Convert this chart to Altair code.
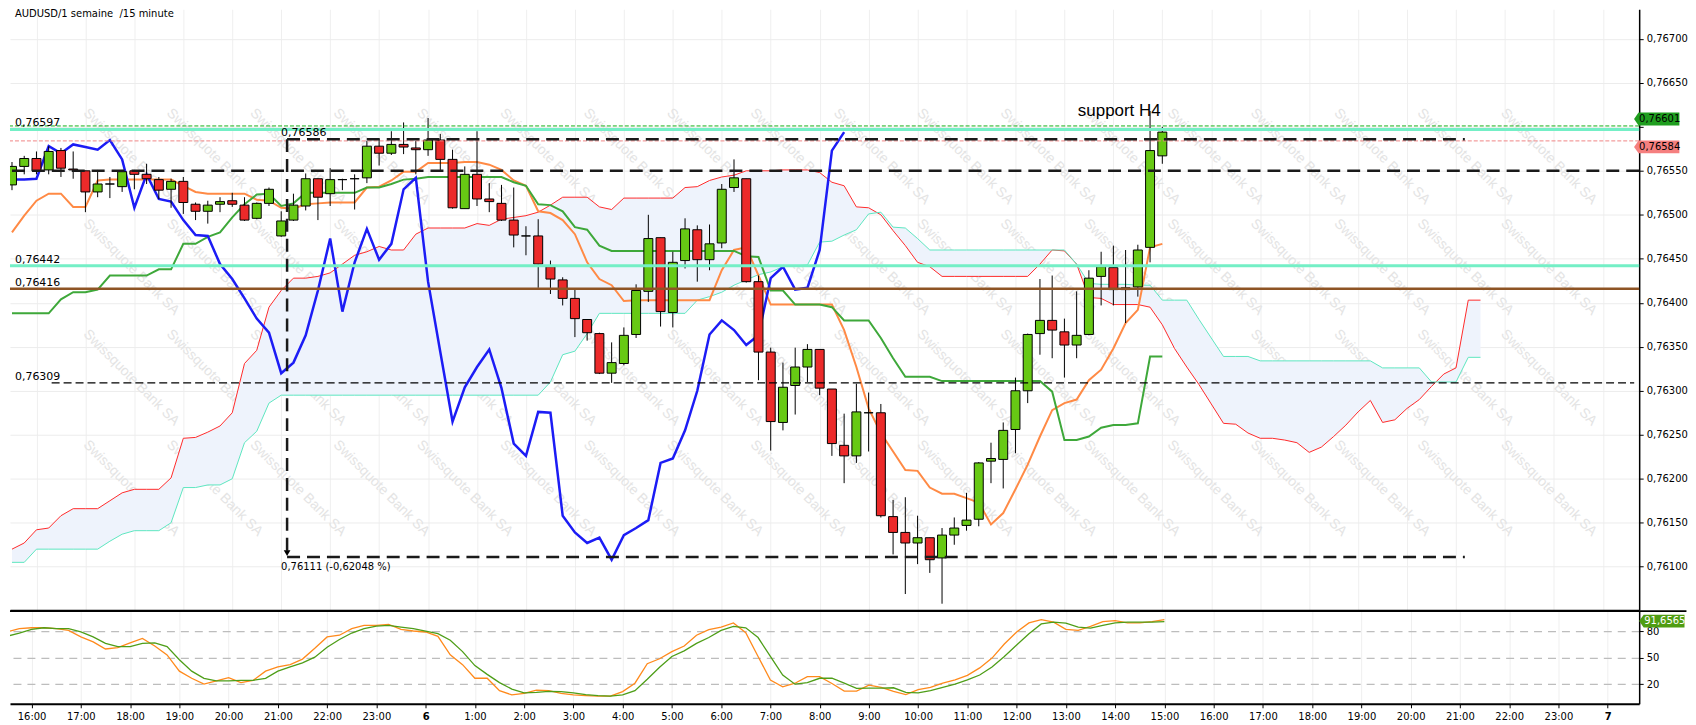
import altair as alt
import pandas as pd

# ---------------- data ----------------
# time axis: hours counted from 0:00 on day 5; one candle every 15 minutes
T_FIRST = 15.5
T_STEP = 0.25

OPEN = [0.76534, 0.76555, 0.76564, 0.76551, 0.76573, 0.76552, 0.76550, 0.76526, 0.76535, 0.76532,
        0.76550, 0.76546, 0.76540, 0.76529, 0.76538, 0.76512, 0.76504, 0.76512, 0.76516, 0.76511,
        0.76496, 0.76513, 0.76476, 0.76494, 0.76510, 0.76541, 0.76524, 0.76540, 0.76541, 0.76542,
        0.76578, 0.76570, 0.76580, 0.76576, 0.76574, 0.76585, 0.76563, 0.76507, 0.76546, 0.76518,
        0.76513, 0.76494, 0.76476, 0.76476, 0.76441, 0.76426, 0.76405, 0.76381, 0.76365, 0.76320,
        0.76331, 0.76364, 0.76413, 0.76474, 0.76389, 0.76448, 0.76483, 0.76449, 0.76468, 0.76531,
        0.76541, 0.76424, 0.76344, 0.76264, 0.76306, 0.76327, 0.76347, 0.76302, 0.76238, 0.76226,
        0.76275, 0.76275, 0.76157, 0.76139, 0.76127, 0.76133, 0.76110, 0.76136, 0.76147, 0.76154,
        0.76220, 0.76222, 0.76256, 0.76300, 0.76365, 0.76380, 0.76367, 0.76352, 0.76364, 0.76430,
        0.76440, 0.76415, 0.76418, 0.76463, 0.76567]
HIGH = [0.76560, 0.76567, 0.76572, 0.76578, 0.76576, 0.76572, 0.76550, 0.76551, 0.76543, 0.76551,
        0.76551, 0.76558, 0.76543, 0.76541, 0.76543, 0.76514, 0.76516, 0.76520, 0.76525, 0.76520,
        0.76514, 0.76531, 0.76504, 0.76524, 0.76547, 0.76541, 0.76553, 0.76541, 0.76546, 0.76584,
        0.76586, 0.76595, 0.76605, 0.76584, 0.76610, 0.76592, 0.76574, 0.76555, 0.76595, 0.76536,
        0.76534, 0.76531, 0.76487, 0.76495, 0.76448, 0.76429, 0.76415, 0.76381, 0.76366, 0.76355,
        0.76372, 0.76421, 0.76500, 0.76474, 0.76458, 0.76496, 0.76488, 0.76489, 0.76535, 0.76563,
        0.76541, 0.76431, 0.76349, 0.76332, 0.76349, 0.76353, 0.76347, 0.76302, 0.76274, 0.76308,
        0.76298, 0.76285, 0.76176, 0.76179, 0.76158, 0.76133, 0.76144, 0.76156, 0.76184, 0.76219,
        0.76241, 0.76264, 0.76315, 0.76365, 0.76427, 0.76431, 0.76382, 0.76413, 0.76437, 0.76458,
        0.76465, 0.76460, 0.76466, 0.76618, 0.76600]
LOW = [0.76528, 0.76546, 0.76546, 0.76546, 0.76543, 0.76541, 0.76503, 0.76520, 0.76519, 0.76526,
       0.76529, 0.76535, 0.76518, 0.76508, 0.76501, 0.76494, 0.76490, 0.76503, 0.76509, 0.76493,
       0.76495, 0.76510, 0.76475, 0.76493, 0.76505, 0.76494, 0.76510, 0.76528, 0.76506, 0.76536,
       0.76556, 0.76568, 0.76569, 0.76546, 0.76567, 0.76551, 0.76507, 0.76507, 0.76510, 0.76503,
       0.76493, 0.76463, 0.76454, 0.76417, 0.76410, 0.76397, 0.76361, 0.76357, 0.76319, 0.76309,
       0.76329, 0.76360, 0.76401, 0.76373, 0.76372, 0.76439, 0.76424, 0.76437, 0.76462, 0.76526,
       0.76423, 0.76312, 0.76232, 0.76255, 0.76273, 0.76310, 0.76295, 0.76226, 0.76195, 0.76218,
       0.76231, 0.76156, 0.76114, 0.76069, 0.76103, 0.76093, 0.76058, 0.76125, 0.76141, 0.76146,
       0.76195, 0.76189, 0.76229, 0.76286, 0.76341, 0.76337, 0.76315, 0.76337, 0.76363, 0.76397,
       0.76397, 0.76377, 0.76407, 0.76446, 0.76558]
CLOSE = [0.76555, 0.76564, 0.76550, 0.76572, 0.76553, 0.76551, 0.76526, 0.76535, 0.76535, 0.76549,
         0.76546, 0.76541, 0.76528, 0.76538, 0.76514, 0.76504, 0.76511, 0.76515, 0.76512, 0.76494,
         0.76513, 0.76529, 0.76493, 0.76511, 0.76541, 0.76520, 0.76540, 0.76540, 0.76541, 0.76578,
         0.76570, 0.76580, 0.76577, 0.76574, 0.76585, 0.76563, 0.76508, 0.76546, 0.76518, 0.76515,
         0.76494, 0.76477, 0.76476, 0.76444, 0.76427, 0.76405, 0.76382, 0.76366, 0.76320, 0.76332,
         0.76363, 0.76414, 0.76473, 0.76390, 0.76446, 0.76484, 0.76449, 0.76467, 0.76529, 0.76542,
         0.76424, 0.76344, 0.76265, 0.76304, 0.76327, 0.76347, 0.76303, 0.76240, 0.76226, 0.76276,
         0.76275, 0.76158, 0.76139, 0.76127, 0.76133, 0.76108, 0.76136, 0.76144, 0.76153, 0.76218,
         0.76223, 0.76255, 0.76300, 0.76364, 0.76380, 0.76369, 0.76352, 0.76363, 0.76428, 0.76441,
         0.76415, 0.76417, 0.76460, 0.76573, 0.76594]

TENKAN = [0.76480, 0.76499, 0.76516, 0.76524, 0.76524, 0.76509, 0.76509, 0.76539, 0.76540, 0.76540,
          0.76540, 0.76540, 0.76540, 0.76540, 0.76533, 0.76526, 0.76524, 0.76524, 0.76524, 0.76524,
          0.76517, 0.76516, 0.76508, 0.76507, 0.76512, 0.76513, 0.76514, 0.76514, 0.76514, 0.76531,
          0.76532, 0.76539, 0.76549, 0.76549, 0.76559, 0.76559, 0.76559, 0.76560, 0.76560, 0.76557,
          0.76551, 0.76539, 0.76533, 0.76504, 0.76502, 0.76494, 0.76478, 0.76446, 0.76427, 0.76420,
          0.76402, 0.76403, 0.76403, 0.76403, 0.76403, 0.76403, 0.76403, 0.76403, 0.76437, 0.76460,
          0.76463, 0.76431, 0.76398, 0.76398, 0.76398, 0.76398, 0.76398, 0.76398, 0.76369, 0.76327,
          0.76280, 0.76252, 0.76231, 0.76210, 0.76209, 0.76190, 0.76183, 0.76183, 0.76178, 0.76173,
          0.76148, 0.76161, 0.76188, 0.76216, 0.76248, 0.76278, 0.76286, 0.76290, 0.76312, 0.76324,
          0.76348, 0.76377, 0.76392, 0.76463, 0.76467]
KIJUN = [0.76388, 0.76388, 0.76388, 0.76388, 0.76404, 0.76412, 0.76412, 0.76415, 0.76431, 0.76431,
         0.76431, 0.76431, 0.76438, 0.76438, 0.76467, 0.76467, 0.76475, 0.76480, 0.76497, 0.76512,
         0.76523, 0.76524, 0.76510, 0.76513, 0.76525, 0.76525, 0.76525, 0.76525, 0.76525, 0.76531,
         0.76531, 0.76535, 0.76540, 0.76541, 0.76543, 0.76543, 0.76543, 0.76543, 0.76543, 0.76543,
         0.76543, 0.76537, 0.76533, 0.76512, 0.76511, 0.76504, 0.76486, 0.76483, 0.76465, 0.76459,
         0.76459, 0.76459, 0.76459, 0.76459, 0.76459, 0.76459, 0.76459, 0.76459, 0.76459, 0.76459,
         0.76453, 0.76452, 0.76414, 0.76414, 0.76398, 0.76398, 0.76398, 0.76395, 0.76380, 0.76380,
         0.76380, 0.76360, 0.76337, 0.76316, 0.76316, 0.76316, 0.76311, 0.76311, 0.76311, 0.76311,
         0.76311, 0.76311, 0.76311, 0.76311, 0.76311, 0.76299, 0.76244, 0.76244, 0.76248, 0.76258,
         0.76261, 0.76261, 0.76263, 0.76339, 0.76339]
SENKOU_A = [0.76120, 0.76127, 0.76142, 0.76144, 0.76158, 0.76166, 0.76166, 0.76166, 0.76175, 0.76184,
            0.76188, 0.76188, 0.76188, 0.76201, 0.76246, 0.76247, 0.76253, 0.76260, 0.76275, 0.76331,
            0.76346, 0.76395, 0.76414, 0.76428, 0.76428, 0.76430, 0.76434, 0.76444, 0.76454, 0.76458,
            0.76464, 0.76460, 0.76460, 0.76478, 0.76485, 0.76485, 0.76485, 0.76485, 0.76490, 0.76488,
            0.76495, 0.76497, 0.76499, 0.76503, 0.76511, 0.76520, 0.76520, 0.76520, 0.76509, 0.76506,
            0.76519, 0.76519, 0.76519, 0.76519, 0.76519, 0.76531, 0.76532, 0.76539, 0.76543, 0.76545,
            0.76550, 0.76550, 0.76550, 0.76551, 0.76551, 0.76551, 0.76548, 0.76537, 0.76533, 0.76509,
            0.76508, 0.76500, 0.76482, 0.76465, 0.76446, 0.76441, 0.76430, 0.76430, 0.76430, 0.76430,
            0.76430, 0.76430, 0.76430, 0.76430, 0.76444, 0.76460, 0.76459, 0.76444, 0.76406, 0.76405,
            0.76398, 0.76398, 0.76398, 0.76395, 0.76375, 0.76348, 0.76327, 0.76307, 0.76285, 0.76263,
            0.76262, 0.76252, 0.76246, 0.76246, 0.76244, 0.76241, 0.76230, 0.76236, 0.76248, 0.76261,
            0.76276, 0.76289, 0.76264, 0.76267, 0.76280, 0.76290, 0.76305, 0.76319, 0.76326, 0.76403,
            0.76403]
SENKOU_B = [0.76105, 0.76105, 0.76120, 0.76120, 0.76120, 0.76120, 0.76120, 0.76120, 0.76129, 0.76137,
            0.76141, 0.76141, 0.76141, 0.76150, 0.76190, 0.76190, 0.76193, 0.76193, 0.76200, 0.76241,
            0.76254, 0.76286, 0.76295, 0.76295, 0.76295, 0.76295, 0.76295, 0.76295, 0.76295, 0.76295,
            0.76295, 0.76295, 0.76295, 0.76295, 0.76295, 0.76295, 0.76295, 0.76295, 0.76295, 0.76295,
            0.76295, 0.76295, 0.76295, 0.76295, 0.76310, 0.76341, 0.76345, 0.76365, 0.76388, 0.76388,
            0.76388, 0.76388, 0.76388, 0.76388, 0.76388, 0.76388, 0.76403, 0.76407, 0.76412, 0.76420,
            0.76426, 0.76432, 0.76435, 0.76441, 0.76442, 0.76443, 0.76469, 0.76470, 0.76477, 0.76483,
            0.76501, 0.76503, 0.76486, 0.76485, 0.76473, 0.76460, 0.76460, 0.76460, 0.76460, 0.76460,
            0.76460, 0.76460, 0.76460, 0.76460, 0.76460, 0.76460, 0.76460, 0.76444, 0.76422, 0.76421,
            0.76421, 0.76421, 0.76420, 0.76420, 0.76403, 0.76403, 0.76403, 0.76381, 0.76360, 0.76339,
            0.76339, 0.76339, 0.76334, 0.76334, 0.76334, 0.76334, 0.76334, 0.76334, 0.76334, 0.76334,
            0.76334, 0.76334, 0.76326, 0.76326, 0.76326, 0.76326, 0.76310, 0.76310, 0.76310, 0.76338,
            0.76338]
CHIKOU_SHIFT = 26  # lagging span = close plotted 26 candles back

STOCH_K = [79.3, 83.0, 84.1, 84.1, 83.0, 81.1, 73.7, 68.1, 60.0, 61.5,
           67.0, 71.9, 63.3, 53.3, 34.8, 26.7, 20.0, 23.7, 27.4, 21.8,
           24.4, 34.8, 39.6, 42.2, 48.5, 60.7, 73.7, 75.6, 83.0, 86.7,
           86.7, 87.8, 82.2, 80.4, 79.3, 74.4, 53.3, 42.2, 26.7, 26.7,
           12.6, 7.8, 9.6, 13.3, 12.6, 9.6, 7.8, 7.0, 6.3, 6.3,
           11.5, 21.1, 43.3, 48.9, 57.0, 63.3, 75.6, 81.9, 84.8, 89.6,
           78.5, 51.5, 24.8, 17.0, 21.1, 28.5, 28.5, 20.7, 12.2, 12.2,
           18.9, 16.3, 11.9, 8.1, 13.7, 16.3, 21.1, 24.8, 30.0, 38.5,
           49.6, 65.6, 79.3, 89.6, 93.3, 90.4, 82.2, 81.1, 85.6, 91.1,
           92.2, 89.6, 89.6, 91.1, 93.3]
STOCH_D = [74.4, 78.1, 82.2, 84.1, 83.0, 83.0, 79.3, 73.7, 66.3, 62.6,
           62.6, 66.3, 67.0, 62.6, 47.8, 34.8, 26.7, 23.7, 23.7, 24.4,
           24.4, 26.7, 34.8, 39.6, 44.1, 50.7, 61.9, 70.7, 78.1, 83.0,
           85.9, 86.7, 84.8, 83.0, 80.4, 77.4, 70.0, 57.0, 41.1, 31.1,
           21.8, 14.4, 10.0, 10.7, 11.9, 11.5, 10.0, 8.1, 7.0, 6.3,
           7.8, 12.6, 25.6, 39.3, 51.5, 57.8, 66.3, 73.0, 81.1, 85.6,
           84.1, 73.0, 51.5, 30.4, 20.0, 21.8, 26.7, 26.7, 21.1, 15.2,
           15.6, 15.6, 15.9, 10.7, 10.0, 12.6, 16.3, 20.0, 24.8, 30.4,
           39.6, 51.5, 64.4, 77.4, 88.5, 90.4, 89.3, 84.8, 83.7, 86.7,
           89.6, 90.4, 90.4, 90.4, 91.1]

# horizontal levels and annotations
CYAN_LEVELS = [0.76597, 0.76442]
BROWN_LEVELS = [0.76416]
DASH_FULL_LEVELS = [0.76550]
THIN_DASH_LEVELS = [0.76309]
BID_PRICE = 0.76601
ASK_PRICE = 0.76584
STOCH_LAST = 91.6565
LEFT_LABELS = ["0,76597", "0,76442", "0,76416", "0,76309"]
LEFT_LABEL_PRICES = [0.76597, 0.76442, 0.76416, 0.76309]
MEASURE_HIGH = 0.76586
MEASURE_LOW = 0.76111
MEASURE_START = 21.12
MEASURE_END = 45.18
THIN_DASH_START = 16.31
MEASURE_TEXT_HIGH = "0,76586"
MEASURE_TEXT_LOW = "0,76111 (-0,62048 %)"
NOTE_TEXT = "support H4"
NOTE_HOUR = 38.12
NOTE_PRICE = 0.76618
TITLE = "AUDUSD/1 semaine \u00a0/15 minute"
WATERMARK = "Swissquote Bank SA"

HOUR_TICKS = list(range(16, 49))
PRICE_TICKS = [0.7610, 0.7615, 0.7620, 0.7625, 0.7630, 0.7635, 0.7640, 0.7645,
               0.7650, 0.7655, 0.7660, 0.7665, 0.7670]
STOCH_TICKS = [20, 50, 80]

# ---------------- layout ----------------
X_DOMAIN = [15.561, 48.64]
P_DOMAIN = [0.760507, 0.767336]
S_DOMAIN = [-2.3, 103.0]
W, H_MAIN, H_STOCH = 1635, 603, 93
TAG_HOUR = 49.1
X_FAR = 49.6

FONT = "DejaVu Sans"
GREEN = "#67c914"
RED = "#ec2a2a"

n = len(OPEN)
assert all(len(a) == n for a in (HIGH, LOW, CLOSE, TENKAN, KIJUN, STOCH_K, STOCH_D))
assert len(SENKOU_A) == len(SENKOU_B) == n + CHIKOU_SHIFT
times = [T_FIRST + T_STEP * i for i in range(len(SENKOU_A))]

candles = pd.DataFrame({"t": times[:n], "o": OPEN, "h": HIGH, "l": LOW, "c": CLOSE})
candles["dir"] = ["up" if c >= o else "down" for o, c in zip(OPEN, CLOSE)]
ind = pd.DataFrame({"t": times[:n], "tenkan": TENKAN, "kijun": KIJUN, "k": STOCH_K, "d": STOCH_D})
cloud = pd.DataFrame({"t": times, "a": SENKOU_A, "b": SENKOU_B})
chikou = pd.DataFrame({"t": times[: n - CHIKOU_SHIFT], "v": CLOSE[CHIKOU_SHIFT:]})

# watermark grid (decoration, only the copies that lie wholly inside the price panel)
WM_HOURS = [15.399 + 1.7034 * j for j in range(1, 19)]
WM_PRICES = [0.766238, 0.764981, 0.763724, 0.762467]
wm_main = pd.DataFrame([(h, p) for h in WM_HOURS for p in WM_PRICES], columns=["t", "p"])

XS = alt.Scale(domain=X_DOMAIN, nice=False, zero=False)
PS = alt.Scale(domain=P_DOMAIN, nice=False, zero=False)
SS = alt.Scale(domain=S_DOMAIN, nice=False, zero=False)

AX_X_MAIN = alt.Axis(values=HOUR_TICKS, labels=False, ticks=False, domain=True,
                     domainColor="black", domainWidth=2, grid=True, gridColor="#efefef",
                     title=None, minExtent=0)
AX_X_STOCH = alt.Axis(values=HOUR_TICKS,
                      labelExpr="datum.value % 24 == 0 ? toString(datum.value / 24 + 5) : toString(datum.value % 24) + ':00'",
                      labelFontWeight={"condition": {"test": "datum.value % 24 == 0", "value": "bold"},
                                       "value": "normal"},
                      labelFont=FONT, labelFontSize=10, labelColor="black", labelPadding=4,
                      labelOverlap=False, labelFlush=False,
                      tickColor="black", tickSize=4, domainColor="black", domainWidth=2,
                      grid=True, gridColor="#efefef", title=None)
AX_P = alt.Axis(orient="right", values=PRICE_TICKS,
                labelExpr="abs(datum.value - 0.766) < 0.00001 ? '' : replace(format(datum.value, '.5f'), '.', ',')",
                labelFont=FONT, labelFontSize=10, labelColor="black", labelPadding=3,
                tickColor="black", tickSize=4, domainColor="black", domainWidth=1.5,
                grid=True, gridColor="#ececec", title=None, labelOverlap=False, labelFlush=False)
AX_S = alt.Axis(orient="right", values=STOCH_TICKS, labelFont=FONT, labelFontSize=10,
                labelColor="black", labelPadding=3, tickColor="black", tickSize=4,
                domainColor="black", domainWidth=1.5, grid=True, gridColor="#bdbdbd",
                gridDash=[8, 6], gridWidth=1.2, title=None, labelFlush=False)


def XM(f):
    return alt.X(f"{f}:Q", scale=XS, axis=AX_X_MAIN)


def XL(f):
    return alt.X(f"{f}:Q", scale=XS, axis=AX_X_STOCH)


def YP(f):
    return alt.Y(f"{f}:Q", scale=PS, axis=AX_P)


def YS(f):
    return alt.Y(f"{f}:Q", scale=SS, axis=AX_S)


def dash_rule(df, color, width, dash=None, x_field=None):
    kw = dict(color=color, strokeWidth=width)
    if dash:
        kw["strokeDash"] = dash
    enc = {"y": YP("p")}
    if x_field:
        enc["x"] = XM(x_field[0])
        enc["x2"] = alt.X2(f"{x_field[1]}:Q")
    return alt.Chart(df).mark_rule(**kw).encode(**enc)


TAG_PATH = "M-1.75,0L-1.4,-0.5L1.75,-0.5L1.75,0.5L-1.4,0.5Z"


def price_tag(price, label, fill, offset):
    df = pd.DataFrame({"x": [TAG_HOUR], "p": [price], "s": [label]})
    shape = alt.Chart(df).mark_point(shape=TAG_PATH, size=676, filled=True, opacity=1, strokeWidth=0,
                                     color=fill, yOffset=offset).encode(x=XM("x"), y=YP("p"))
    txt = alt.Chart(df).mark_text(align="center", baseline="middle", dx=3, dy=offset, font=FONT,
                                  fontSize=10, color="black").encode(x=XM("x"), y=YP("p"), text="s:N")
    return [shape, txt]


# ---------------- main panel ----------------
wm_layer = alt.Chart(wm_main).mark_text(
    text=WATERMARK, angle=45, align="left", baseline="top", font="Liberation Sans",
    fontSize=14, color="#e4e4e4").encode(x=XM("t"), y=YP("p"))

cloud_layer = alt.Chart(cloud).mark_area(color="#eef3fc", opacity=1, clip=True).encode(
    x=XM("t"), y=YP("a"), y2=alt.Y2("b:Q"))
span_a = alt.Chart(cloud).mark_line(color="#ff2a2a", strokeWidth=1, clip=True).encode(x=XM("t"), y=YP("a"))
span_b = alt.Chart(cloud).mark_line(color="#5de6c0", strokeWidth=1, clip=True).encode(x=XM("t"), y=YP("b"))
tenkan = alt.Chart(ind).mark_line(color="#ff8a45", strokeWidth=2, clip=True).encode(x=XM("t"), y=YP("tenkan"))
kijun = alt.Chart(ind).mark_line(color="#3ea83a", strokeWidth=2, clip=True).encode(x=XM("t"), y=YP("kijun"))
chikou_l = alt.Chart(chikou).mark_line(color="#1c1cf5", strokeWidth=2.5, clip=True).encode(x=XM("t"), y=YP("v"))

wicks = alt.Chart(candles).mark_rule(color="black", strokeWidth=1, clip=True).encode(
    x=XM("t"), y=YP("l"), y2=alt.Y2("h:Q"))
bodies = alt.Chart(candles).mark_bar(size=9, stroke="black", strokeWidth=1, opacity=1, clip=True).encode(
    x=XM("t"), y=YP("o"), y2=alt.Y2("c:Q"),
    color=alt.Color("dir:N", scale=alt.Scale(domain=["up", "down"], range=[GREEN, RED]), legend=None))

cyan_rules = dash_rule(pd.DataFrame({"p": CYAN_LEVELS}), "#74efc6", 3)
brown_rules = dash_rule(pd.DataFrame({"p": BROWN_LEVELS}), "#8e5425", 2.5)
full_dash = dash_rule(pd.DataFrame({"p": DASH_FULL_LEVELS}), "#1a1a1a", 2.5, [13, 7])
bid_rule = dash_rule(pd.DataFrame({"p": [BID_PRICE]}), "#18b018", 1, [4, 2])
ask_rule = dash_rule(pd.DataFrame({"p": [ASK_PRICE]}), "#f08585", 1, [4, 2])
thin_dash = dash_rule(pd.DataFrame({"p": THIN_DASH_LEVELS, "x1": [THIN_DASH_START] * len(THIN_DASH_LEVELS),
                                    "x2": [X_DOMAIN[1]] * len(THIN_DASH_LEVELS)}),
                      "black", 1.2, [8, 4], x_field=("x1", "x2"))
measure_h = dash_rule(pd.DataFrame({"p": [MEASURE_HIGH, MEASURE_LOW], "x1": [MEASURE_START] * 2,
                                    "x2": [MEASURE_END] * 2}),
                      "#1a1a1a", 2.5, [13, 7], x_field=("x1", "x2"))
measure_v = alt.Chart(pd.DataFrame({"x": [MEASURE_START], "p": [MEASURE_HIGH], "p2": [MEASURE_LOW]})).mark_rule(
    color="#1a1a1a", strokeWidth=2.5, strokeDash=[13, 7]).encode(x=XM("x"), y=YP("p"), y2=alt.Y2("p2:Q"))
arrow = alt.Chart(pd.DataFrame({"x": [MEASURE_START], "p": [MEASURE_LOW]})).mark_point(
    shape="triangle-down", size=45, filled=True, color="black", opacity=1, yOffset=-4).encode(
    x=XM("x"), y=YP("p"))

left_lbl = alt.Chart(pd.DataFrame({"x": [X_DOMAIN[0]] * len(LEFT_LABELS), "p": LEFT_LABEL_PRICES,
                                   "s": LEFT_LABELS})).mark_text(
    align="left", baseline="bottom", dy=-1, font=FONT, fontSize=11, color="black").encode(
    x=XM("x"), y=YP("p"), text="s:N")
mhigh_lbl = alt.Chart(pd.DataFrame({"x": [MEASURE_START], "p": [MEASURE_HIGH], "s": [MEASURE_TEXT_HIGH]})).mark_text(
    align="left", baseline="bottom", dx=-6, dy=-1, font=FONT, fontSize=11, color="black").encode(
    x=XM("x"), y=YP("p"), text="s:N")
mlow_lbl = alt.Chart(pd.DataFrame({"x": [MEASURE_START], "p": [MEASURE_LOW], "s": [MEASURE_TEXT_LOW]})).mark_text(
    align="left", baseline="top", dx=-6, dy=5, font=FONT, fontSize=10, color="black").encode(
    x=XM("x"), y=YP("p"), text="s:N")
note = alt.Chart(pd.DataFrame({"x": [NOTE_HOUR], "p": [NOTE_PRICE], "s": [NOTE_TEXT]})).mark_text(
    align="center", baseline="middle", font="Liberation Sans", fontSize=17, color="black").encode(
    x=XM("x"), y=YP("p"), text="s:N")
title = alt.Chart(pd.DataFrame({"x": [X_DOMAIN[0]], "p": [P_DOMAIN[1]], "s": [TITLE]})).mark_text(
    align="left", baseline="top", dy=0, font=FONT, fontSize=10, color="black").encode(
    x=XM("x"), y=YP("p"), text="s:N")

tag_layers = price_tag(BID_PRICE, "0,76601", "#1f9e1f", -7) + price_tag(ASK_PRICE, "0,76584", "#f57f7f", 6)

main = alt.layer(wm_layer, cloud_layer, span_a, span_b, tenkan, kijun, chikou_l, wicks, bodies,
                 cyan_rules, brown_rules, full_dash, bid_rule, ask_rule, thin_dash, measure_h, measure_v,
                 arrow, left_lbl, mhigh_lbl, mlow_lbl, note, title, *tag_layers
                 ).properties(width=W, height=H_MAIN)

# ---------------- stochastic panel ----------------
k_line = alt.Chart(ind).mark_line(color="#ff8a1c", strokeWidth=1.3, clip=True).encode(x=XL("t"), y=YS("k"))
d_line = alt.Chart(ind).mark_line(color="#4e9e18", strokeWidth=1.3, clip=True).encode(x=XL("t"), y=YS("d"))
sep = alt.Chart(pd.DataFrame({"x1": [X_DOMAIN[0]], "x2": [X_FAR], "p": [S_DOMAIN[1]]})).mark_rule(
    color="black", strokeWidth=2).encode(x=XL("x1"), x2=alt.X2("x2:Q"), y=YS("p"))
stag = pd.DataFrame({"x": [TAG_HOUR], "p": [STOCH_LAST], "s": ["91,6565"]})
stag_shape = alt.Chart(stag).mark_point(shape=TAG_PATH, size=676, filled=True, opacity=1, color="#4f9d12",
                                        strokeWidth=0).encode(x=XL("x"), y=YS("p"))
stag_text = alt.Chart(stag).mark_text(align="center", baseline="middle", dx=3, font=FONT, fontSize=10,
                                      color="white").encode(x=XL("x"), y=YS("p"), text="s:N")

stoch = alt.layer(k_line, d_line, sep, stag_shape, stag_text).properties(width=W, height=H_STOCH)

chart = alt.vconcat(main, stoch, spacing=0).properties(padding=0, background="white").configure_view(
    stroke=None).configure_axis(labelFont=FONT)

chart.save("out.html", embed_options={"renderer": "svg", "actions": False})
